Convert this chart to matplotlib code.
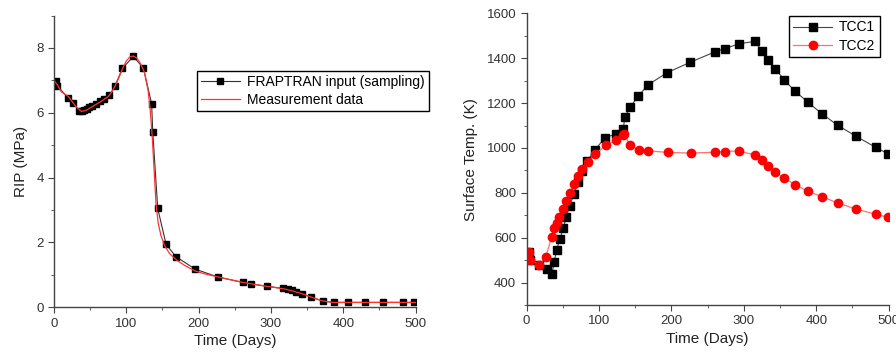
import numpy as np
import matplotlib
matplotlib.use('Agg')
import matplotlib.pyplot as plt
from matplotlib.ticker import MultipleLocator

plt.rcParams['font.family'] = ['Liberation Sans', 'DejaVu Sans']

# left panel: RIP
frap_day = [2.8, 4.6, 18.9, 25.8, 35, 38, 41.5, 45, 49, 52.6, 57.6, 63.6, 69, 76.5, 84.4,
            94.5, 109.7, 123.6, 135, 136.5, 143.4, 155, 168.7, 195, 227, 261, 273, 294,
            317, 323, 329, 335, 342.5, 355.5, 371.6, 387.7, 407, 430, 454.6, 483, 498]
frap_rip = [6.99, 6.83, 6.47, 6.30, 6.07, 6.06, 6.09, 6.13, 6.17, 6.21, 6.28, 6.35, 6.42, 6.54, 6.83,
            7.37, 7.74, 7.38, 6.28, 5.42, 3.05, 1.94, 1.56, 1.18, 0.93, 0.77, 0.72, 0.65,
            0.58, 0.56, 0.52, 0.47, 0.41, 0.32, 0.19, 0.15, 0.15, 0.15, 0.15, 0.15, 0.15]

meas_day = [0, 5, 10, 20, 30, 38, 45, 55, 65, 75, 80, 85, 90, 95, 100, 105, 110, 115, 120,
            125, 130, 133, 136, 139, 141, 144, 148, 153, 160, 170, 180, 195, 210, 230, 260,
            290, 320, 340, 355, 370, 385, 400, 500]
meas_rip = [7.0, 6.85, 6.65, 6.5, 6.2, 6.04, 6.08, 6.22, 6.35, 6.5, 6.65, 6.85, 7.1, 7.38, 7.6,
            7.73, 7.75, 7.68, 7.5, 7.25, 6.7, 6.1, 5.2, 4.0, 3.2, 2.6, 2.2, 1.9, 1.65, 1.45,
            1.3, 1.12, 1.02, 0.92, 0.77, 0.66, 0.56, 0.44, 0.32, 0.2, 0.15, 0.15, 0.15]

# right panel: surface temperature
tcc1_day = [2.7, 5, 17.4, 28, 35, 38, 41.4, 46, 50.5, 54.7, 59.3, 65.3, 70.8, 76.8, 83.8,
            94.3, 108, 123.3, 133.4, 135.7, 143, 154.2, 168, 193.8, 226, 260.6, 273.5,
            292.8, 315.4, 324.6, 332.9, 343.5, 355.9, 370.6, 388.1, 407.5, 429.6, 454.4,
            482.5, 499]
tcc1_temp = [535, 502, 480, 460, 440, 491, 546, 596, 641, 693, 741, 796, 850, 895, 943,
             992, 1044, 1063, 1084, 1138, 1182, 1232, 1282, 1335, 1382, 1429, 1442,
             1464, 1475, 1433, 1393, 1353, 1303, 1253, 1205, 1153, 1101, 1053,
             1002, 974]

tcc2_day = [2.7, 5, 17.4, 26.6, 34.5, 37.7, 41.4, 45, 49.7, 54.3, 59.8, 65.3, 70.8, 76.8,
            84.2, 94.3, 109, 123.3, 133.5, 135, 142.6, 154.6, 167.9, 195, 226.4, 260.6,
            273.5, 292.8, 315.4, 324.6, 332.9, 343.5, 355.9, 370.6, 388.1, 407.5, 429.6,
            454.4, 482.5, 499]
tcc2_temp = [538, 502, 479, 516, 604, 643, 667, 690, 726, 765, 801, 840, 874, 907,
             938, 971, 1011, 1036, 1058, 1063, 1011, 992, 987, 980, 977, 981,
             984, 987, 968, 946, 919, 892, 865, 837, 807, 783, 755,
             728, 704, 691]


def style_axes(ax):
    for s in ['top', 'right']:
        ax.spines[s].set_visible(False)
    for s in ['left', 'bottom']:
        ax.spines[s].set_color('#444444')
        ax.spines[s].set_linewidth(1.0)
    ax.tick_params(which='both', direction='out', colors='#444444', labelcolor='#333333',
                   labelsize=9.5)
    ax.tick_params(which='major', length=4)
    ax.tick_params(which='minor', length=2.5)


fig = plt.figure(figsize=(8.96, 3.54), dpi=100)

ax1 = fig.add_axes([0.0603, 0.132, 0.4035, 0.824])
ax1.plot(frap_day, frap_rip, color='#333333', lw=0.8, marker='s', ms=5,
         mfc='black', mec='black', label='FRAPTRAN input (sampling)')
ax1.plot(meas_day, meas_rip, color='#ff3333', lw=0.9, label='Measurement data')
ax1.set_xlim(0, 500)
ax1.set_ylim(0, 9)
ax1.xaxis.set_major_locator(MultipleLocator(100))
ax1.xaxis.set_minor_locator(MultipleLocator(50))
ax1.yaxis.set_major_locator(MultipleLocator(2))
ax1.yaxis.set_minor_locator(MultipleLocator(1))
style_axes(ax1)
ax1.set_xlabel('Time (Days)', fontsize=11, color='#222222', labelpad=3)
ax1.set_ylabel('RIP (MPa)', fontsize=11, color='#222222', labelpad=6)
leg1 = ax1.legend(loc='upper left', bbox_to_anchor=(0.395, 0.81), fontsize=10,
                  fancybox=False, edgecolor='black', framealpha=1,
                  handlelength=2.8, borderpad=0.3, labelspacing=0.3, handletextpad=0.5,
                  borderaxespad=0)
leg1.get_frame().set_linewidth(1.0)

ax2 = fig.add_axes([0.5878, 0.1384, 0.404, 0.824])
ax2.plot(tcc1_day, tcc1_temp, color='#444444', lw=0.8, marker='s', ms=5.5,
         mfc='black', mec='black', label='TCC1')
ax2.plot(tcc2_day, tcc2_temp, color='#ff7070', lw=0.9, marker='o', ms=6,
         mfc='red', mec='red', label='TCC2')
ax2.set_xlim(0, 500)
ax2.set_ylim(300, 1600)
ax2.xaxis.set_major_locator(MultipleLocator(100))
ax2.xaxis.set_minor_locator(MultipleLocator(50))
ax2.yaxis.set_major_locator(MultipleLocator(200))
ax2.yaxis.set_minor_locator(MultipleLocator(100))
style_axes(ax2)
ax2.set_xlabel('Time (Days)', fontsize=11, color='#222222', labelpad=3)
ax2.set_ylabel('Surface Temp. (K)', fontsize=11, color='#222222', labelpad=6)
leg2 = ax2.legend(loc='upper right', bbox_to_anchor=(0.975, 0.99), fontsize=10,
                  fancybox=False, edgecolor='black', framealpha=1,
                  handlelength=2.8, borderpad=0.3, labelspacing=0.3, handletextpad=0.5,
                  borderaxespad=0)
leg2.get_frame().set_linewidth(1.0)

fig.savefig('out.png', dpi=100)
